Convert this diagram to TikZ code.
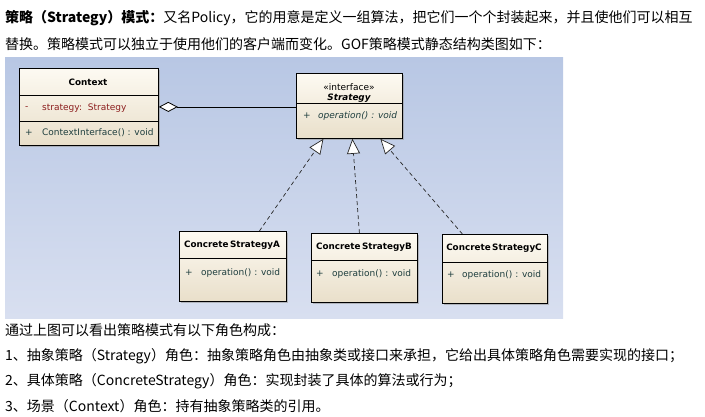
\documentclass[tikz,border=0pt]{standalone}
\usepackage{fontspec}
\setmainfont{Liberation Sans}
\newfontfamily\cjk{Noto Sans CJK SC}
\newfontfamily\umlfont{DejaVu Sans}
\usetikzlibrary{arrows.meta,shadows}

\definecolor{panelTop}{RGB}{184,199,228}
\definecolor{panelBottom}{RGB}{216,223,240}
\definecolor{boxLight}{RGB}{253,250,242}
\definecolor{boxDark}{RGB}{233,223,202}
\definecolor{attrRed}{RGB}{140,30,30}
\definecolor{opTeal}{RGB}{30,62,62}

\tikzset{
  classbox/.style={draw=black, line width=0.8pt, anchor=north west, inner sep=0pt,
    top color=boxLight, bottom color=boxDark,
    drop shadow={shadow xshift=2pt, shadow yshift=-2pt, fill=black!40, opacity=0.6}},
  uml/.style={font=\umlfont\fontsize{9}{10}\selectfont},
  umlbold/.style={font=\umlfont\fontsize{8.8}{10}\selectfont\bfseries},
  member/.style={uml, anchor=west, inner sep=0pt, text=opTeal},
  realize/.style={draw=black!85, line width=0.7pt, dash pattern=on 4pt off 3pt,
    -{Triangle[fill=white, length=15pt, width=13pt]}},
  aggregate/.style={draw=black, line width=0.8pt,
    {Diamond[fill=white, length=19pt, width=10pt]}-},
  say/.style={anchor=west, inner sep=0pt, font=\cjk\fontsize{14}{16}\selectfont}
}

\begin{document}
\begin{tikzpicture}[x=1pt, y=-1pt]
    \useasboundingbox (0,0) rectangle (705,416);

    % Intro text
    \node[say] (intro1) at (5,18) {\textbf{策略（Strategy）模式：}又名Policy，它的用意是定义一组算法，把它们一个个封装起来，并且使他们可以相互};
    \node[say] (intro2) at (5,44) {替换。策略模式可以独立于使用他们的客户端而变化。GOF策略模式静态结构类图如下：};

    % Diagram panel
    \fill[top color=panelTop, bottom color=panelBottom] (5,57) rectangle (563,318);

    % Context class
    \node[classbox, minimum width=139pt, minimum height=77pt] (context) at (19,68) {};
    \draw (context.west |- 0,95) -- (context.east |- 0,95);
    \draw (context.west |- 0,121) -- (context.east |- 0,121);
    \node[umlbold] (contextName) at (88,82) {Context};
    \node[member, text=attrRed] (contextAttrSign) at (25,108) {-};
    \node[member, text=attrRed] (contextAttr) at (42,108) {strategy:\ \ Strategy};
    \node[member] (contextOpSign) at (25,133) {+};
    \node[member] (contextOp) at (42,133) {ContextInterface() : void};

    % Strategy interface
    \node[classbox, minimum width=106pt, minimum height=65pt] (strategy) at (296,73) {};
    \draw (strategy.west |- 0,103) -- (strategy.east |- 0,103);
    \node[uml] (strategyStereo) at (349,87) {«interface»};
    \node[umlbold, font=\umlfont\fontsize{8.8}{10}\selectfont\bfseries\itshape] (strategyName) at (349,98) {Strategy};
    \node[member] (strategyOpSign) at (303,116) {+};
    \node[member, font=\umlfont\fontsize{9}{10}\selectfont\itshape] (strategyOp) at (318,116) {operation() : void};

    % Concrete strategies
    \node[classbox, minimum width=107pt, minimum height=70pt] (concreteA) at (179,231) {};
    \draw (concreteA.west |- 0,258) -- (concreteA.east |- 0,258);
    \node[umlbold] (nameA) at (232,245) {Concrete\,StrategyA};
    \node[member] (opSignA) at (185,273) {+};
    \node[member] (opA) at (201,273) {operation() : void};

    \node[classbox, minimum width=106pt, minimum height=69pt] (concreteB) at (311,233) {};
    \draw (concreteB.west |- 0,260) -- (concreteB.east |- 0,260);
    \node[umlbold] (nameB) at (364,247) {Concrete\,StrategyB};
    \node[member] (opSignB) at (316,274) {+};
    \node[member] (opB) at (332,274) {operation() : void};

    \node[classbox, minimum width=105pt, minimum height=69pt] (concreteC) at (442,234) {};
    \draw (concreteC.west |- 0,262) -- (concreteC.east |- 0,262);
    \node[umlbold] (nameC) at (494,248) {Concrete\,StrategyC};
    \node[member] (opSignC) at (447,275) {+};
    \node[member] (opC) at (462,275) {operation() : void};

    % Aggregation
    \draw[aggregate] (context.east) -- (context.east -| strategy.west);

    % Realizations
    \draw[realize] ([xshift=26.5pt]concreteA.north) -- ([xshift=-26pt]strategy.south);
    \draw[realize] ([xshift=-5pt]concreteB.north) -- ([xshift=3pt]strategy.south);
    \draw[realize] ([xshift=-32.5pt]concreteC.north) -- ([xshift=31pt]strategy.south);

    % Roles text
    \node[say] (roles0) at (5,330) {通过上图可以看出策略模式有以下角色构成：};
    \node[say] (roles1) at (5,356) {1、抽象策略（Strategy）角色：抽象策略角色由抽象类或接口来承担，它给出具体策略角色需要实现的接口；};
    \node[say] (roles2) at (5,381) {2、具体策略（ConcreteStrategy）角色：实现封装了具体的算法或行为；};
    \node[say] (roles3) at (5,406) {3、场景（Context）角色：持有抽象策略类的引用。};
\end{tikzpicture}
\end{document}
